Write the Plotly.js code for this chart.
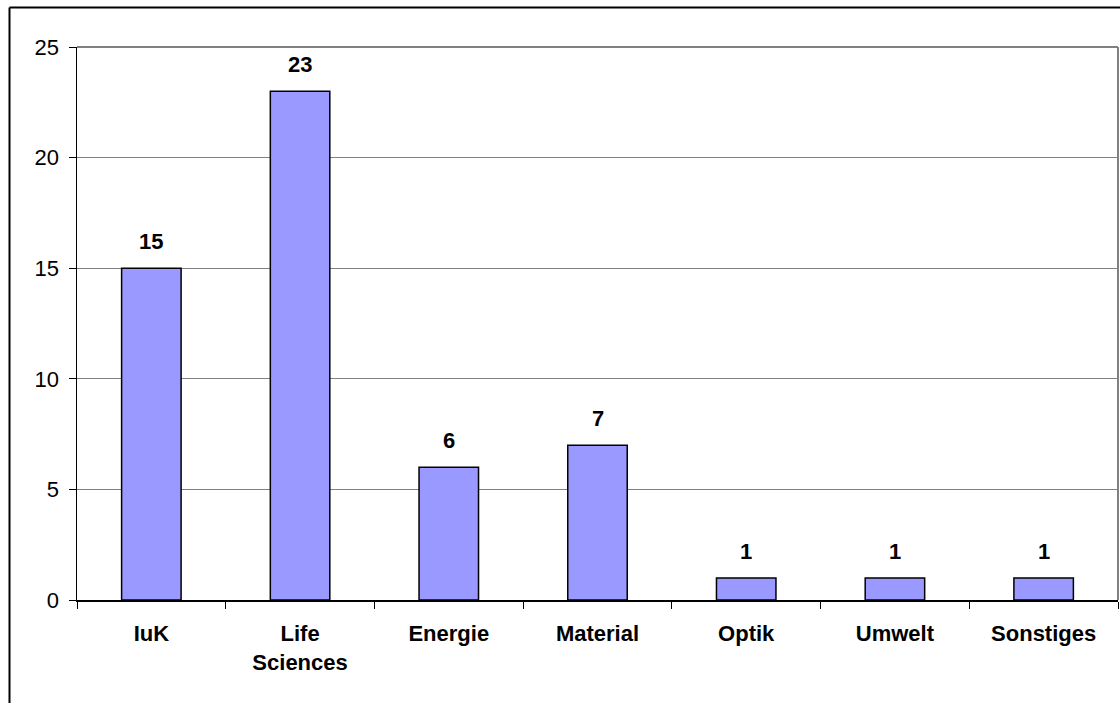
<!DOCTYPE html>
<html>
<head>
<meta charset="utf-8">
<script src="https://cdn.plot.ly/plotly-3.0.1.min.js"></script>
<style>html,body{margin:0;padding:0;background:#fff;}#chart{width:1120px;height:703px;}</style>
</head>
<body>
<div id="chart"></div>
<script>
const categories = ["IuK", "Life<br>Sciences", "Energie", "Material", "Optik", "Umwelt", "Sonstiges"];
const values = [15, 23, 6, 7, 1, 1, 1];
const yTicks = [0, 5, 10, 15, 20, 25];

const W = 1120, H = 703, L = 77, R = 2, T = 47, B = 103;
const pw = W - L - R, ph = H - T - B;
const px = v => (v - L) / pw;
const py = v => (H - B - v) / ph;
const FONT = 'Liberation Sans, Arial, sans-serif';

const trace = {
  type: 'bar',
  x: categories,
  y: values,
  marker: {color: '#9999FF', line: {color: '#000000', width: 1.5}},
  hoverinfo: 'skip'
};

const annotations = categories.map((c, i) => ({
  x: c, y: values[i], xref: 'x', yref: 'y',
  text: '<b>' + values[i] + '</b>',
  showarrow: false, yanchor: 'bottom', yshift: 12,
  font: {family: FONT, size: 22, color: '#000'}
}));

const layout = {
  width: W, height: H,
  margin: {l: L, r: R, t: T, b: B, pad: 0},
  paper_bgcolor: '#ffffff', plot_bgcolor: '#ffffff',
  showlegend: false,
  bargap: 0.6,
  font: {family: FONT, color: '#000'},
  xaxis: {
    type: 'category',
    showgrid: false,
    showline: true, linecolor: '#000', linewidth: 1.5,
    ticks: 'outside', tickson: 'boundaries', ticklen: 7, tickcolor: '#000', tickwidth: 1,
    tickfont: {family: FONT, size: 22, color: '#000', weight: 'bold'},
    ticklabelstandoff: 13,
    zeroline: false, fixedrange: true
  },
  yaxis: {
    range: [0, 25],
    tickvals: yTicks,
    showgrid: true, gridcolor: '#808080', gridwidth: 1,
    showline: true, linecolor: '#000', linewidth: 1.5,
    ticks: 'outside', ticklen: 7, tickcolor: '#000', tickwidth: 1,
    tickfont: {family: FONT, size: 22, color: '#000'},
    ticklabelstandoff: 5,
    zeroline: false, fixedrange: true
  },
  annotations: annotations,
  shapes: [
    {type: 'line', xref: 'paper', yref: 'paper', x0: 0, x1: 1, y0: 1, y1: 1, line: {color: '#808080', width: 2}},
    {type: 'line', xref: 'paper', yref: 'paper', x0: 1, x1: 1, y0: 0, y1: 1, line: {color: '#808080', width: 2}},
    {type: 'line', xref: 'paper', yref: 'paper', x0: px(9.5), x1: px(9.5), y0: py(7.5), y1: py(720), line: {color: '#000', width: 2}},
    {type: 'line', xref: 'paper', yref: 'paper', x0: px(9.5), x1: px(1130), y0: py(7.5), y1: py(7.5), line: {color: '#000', width: 2}}
  ]
};

Plotly.newPlot('chart', [trace], layout, {displayModeBar: false, staticPlot: true});
</script>
</body>
</html>
